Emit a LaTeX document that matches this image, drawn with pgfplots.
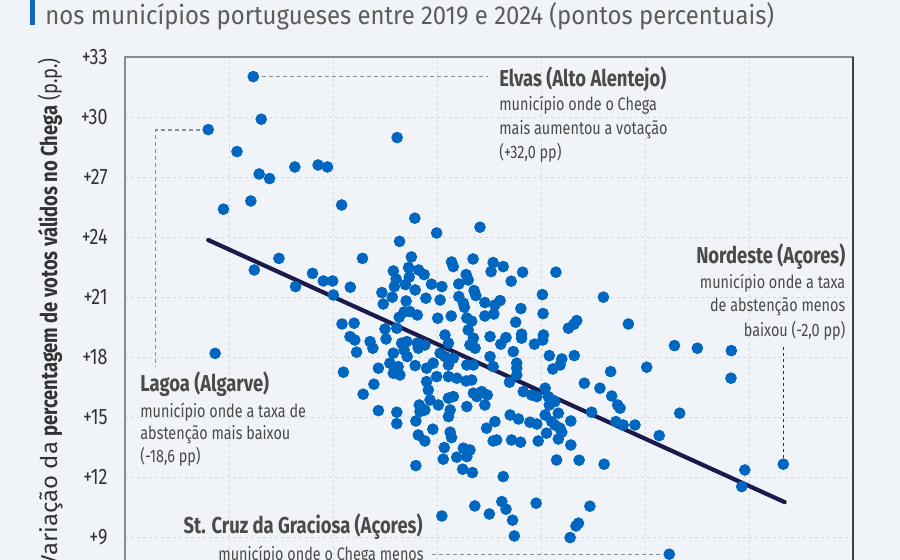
\documentclass[border=0pt]{standalone}
\usepackage{fontspec}
\setmainfont{Fira Sans}[FakeStretch=0.8]
\newfontfamily\titlefont{Fira Sans}[FakeStretch=0.92]
\newfontfamily\ylreg{Fira Sans}[FakeStretch=1.04]
\usepackage{pgfplots}
\usepackage{pgfplotstable}
\pgfplotsset{compat=1.18}
\definecolor{bg}{HTML}{F0F3F7}
\definecolor{dot}{HTML}{0067C0}
\definecolor{navy}{HTML}{1B1A4A}
\definecolor{txt}{HTML}{4A4A4A}
\definecolor{ttl}{HTML}{5C5C5C}
\definecolor{gridc}{HTML}{D3D8DE}
\definecolor{bar}{HTML}{1565C0}
\definecolor{lead}{HTML}{8C8C8C}

\pgfplotstableread{
x y
-17.30 32.02
-17.07 29.89
-18.60 29.37
-13.15 28.97
-17.77 28.27
-16.10 27.50
-15.43 27.60
-15.16 27.50
-17.13 27.15
-16.83 26.92
-17.37 25.80
-14.75 25.60
-18.16 25.39
-12.64 24.94
-13.08 23.78
-12.01 24.20
-10.76 24.49
-12.74 23.00
-14.15 22.93
-16.56 22.93
-17.27 22.35
-15.59 22.18
-15.28 21.80
-16.08 21.52
-15.01 21.80
-14.99 21.10
-18.40 18.18
-11.58 22.75
-10.96 22.90
-11.53 22.52
-13.26 22.30
-12.82 22.47
-12.53 22.35
-12.37 22.12
-12.80 22.00
-13.18 21.90
-11.16 22.12
-11.10 21.85
-11.37 21.65
-14.50 21.49
-13.23 21.52
-12.91 21.62
-12.63 21.35
-12.16 21.64
-11.86 21.52
-10.93 21.32
-10.88 21.07
-13.59 21.22
-13.29 20.99
-11.37 21.02
-12.32 20.94
-11.91 20.85
-12.89 20.80
-13.55 20.65
-11.24 20.69
-11.21 20.49
-12.78 20.27
-12.57 20.10
-13.09 19.99
-11.98 19.94
-11.59 20.05
-11.14 19.95
-11.00 19.79
-14.74 19.65
-14.39 19.69
-13.50 19.40
-13.16 19.44
-12.95 20.25
-10.38 22.72
-10.09 22.52
-10.44 22.27
-9.53 22.24
-8.57 22.24
-9.86 21.79
-8.96 21.12
-7.20 20.99
-10.62 20.72
-10.33 20.60
-10.18 20.82
-9.58 20.42
-10.62 20.05
-10.36 20.15
-8.94 20.17
-9.73 19.74
-7.97 19.82
-8.05 19.64
-8.21 19.44
-6.48 19.65
-14.51 19.02
-14.37 18.85
-13.93 18.77
-13.85 18.44
-13.47 18.90
-14.32 18.24
-13.02 18.69
-12.87 18.77
-12.95 18.35
-12.86 18.02
-12.57 18.69
-12.54 18.44
-12.35 18.60
-13.26 18.19
-13.36 17.69
-13.12 17.52
-13.26 17.19
-13.07 17.10
-13.69 17.44
-14.70 17.24
-12.63 17.57
-12.30 17.44
-12.11 17.69
-11.91 18.19
-11.77 19.10
-11.67 18.69
-11.77 18.02
-11.53 17.94
-11.67 17.60
-11.10 19.35
-10.95 18.94
-11.05 18.60
-10.90 18.44
-11.14 17.60
-10.95 17.60
-12.30 16.77
-12.01 17.02
-11.67 17.02
-11.43 16.94
-11.16 16.80
-11.00 16.85
-12.25 16.35
-12.20 15.85
-11.96 15.60
-11.67 15.94
-11.53 16.02
-11.62 15.35
-11.67 15.02
-11.14 15.52
-10.95 16.19
-10.85 16.02
-13.82 16.64
-14.13 16.14
-13.69 15.32
-13.16 15.24
-13.16 14.67
-12.51 15.60
-12.49 15.27
-12.35 15.35
-12.61 14.80
-12.12 14.39
-12.54 14.10
-12.35 13.80
-11.62 14.24
-11.58 13.97
-11.79 13.47
-11.82 12.89
-11.43 12.99
-11.24 13.44
-11.05 13.35
-11.14 13.02
-11.26 12.39
-10.98 12.22
-12.61 12.57
-10.47 19.02
-10.16 18.64
-10.01 18.97
-9.56 19.14
-9.56 18.94
-9.19 18.64
-8.93 19.10
-8.95 18.85
-9.80 18.27
-10.47 18.02
-9.70 17.69
-9.70 17.44
-10.38 17.52
-9.70 17.10
-9.91 16.74
-8.76 18.07
-8.40 17.90
-8.45 17.60
-8.66 17.40
-8.04 18.07
-6.99 17.27
-7.75 16.69
-7.30 16.44
-6.96 16.05
-6.79 15.60
-6.72 15.44
-6.84 14.77
-6.63 14.60
-7.54 15.24
-9.51 16.27
-9.27 16.10
-9.12 16.02
-8.88 16.44
-8.79 16.02
-8.69 15.85
-8.60 15.77
-8.76 15.60
-10.71 16.27
-10.55 16.10
-10.62 15.60
-9.89 15.10
-9.65 14.90
-10.33 14.77
-10.57 14.44
-9.32 14.74
-9.12 14.65
-8.88 15.10
-8.50 15.19
-8.69 14.77
-8.60 14.60
-8.45 14.44
-8.40 14.24
-8.84 14.19
-8.14 14.80
-8.50 13.90
-9.85 13.85
-9.59 13.74
-10.38 13.80
-10.28 13.85
-9.08 13.80
-8.14 13.60
-8.55 12.85
-7.90 12.84
-7.18 12.64
-10.09 12.02
-5.15 18.57
-4.49 18.44
-3.51 18.32
-5.95 17.49
-3.52 16.94
-5.00 15.19
-6.29 14.60
-5.59 14.07
-3.12 12.35
-3.21 11.52
-2.01 12.64
-10.91 10.55
-10.13 10.77
-10.01 10.39
-10.49 10.15
-9.82 9.84
-9.77 9.05
-9.14 10.69
-7.59 10.54
-7.92 9.69
-7.99 9.55
-8.16 8.97
-11.86 10.05
-5.30 8.14
}\pts

\begin{document}
\begin{tikzpicture}
\fill[bg] (0,0) rectangle (450pt,280pt);
\fill[bar] (15pt,267.5pt) rectangle (17.5pt,281pt);
\node[anchor=base west, inner sep=0pt, font=\titlefont\fontsize{13}{15}\selectfont, text=ttl] at (22.5pt,267.5pt) {nos municípios portugueses entre 2019 e 2024 (pontos percentuais)};
\begin{axis}[
  at={(62.5pt,-18.5pt)}, anchor=south west,
  scale only axis, width=364pt, height=270pt,
  xmin=-21, xmax=0, ymin=6, ymax=33,
  xtick={-21,-18,...,0}, xticklabels={},
  ytick={9,12,...,33},
  yticklabels={+9,+12,+15,+18,+21,+24,+27,+30,+33},
  grid=major,
  major grid style={gridc, dash pattern=on 1.5pt off 1.5pt, line width=0.4pt},
  tick style={draw=none},
  axis line style={draw=lead, line width=0.6pt},
  y tick label style={font=\fontsize{11.2}{12}\selectfont, text=black!80, inner sep=0pt, xshift=-8.5pt},
  clip=false,
]
\addplot[only marks, mark=*, mark size=2.7pt, color=dot, mark options={fill=dot, draw=none}] table {\pts};
\addplot[navy, line width=2.1pt, line cap=round] coordinates {(-18.6,23.85) (-1.97,10.74)};
\draw[lead, line width=0.6pt, dash pattern=on 2pt off 1.5pt] (axis cs:-17.05,32.02) -- (axis cs:-10.53,32.02);
\draw[lead, line width=0.6pt, dash pattern=on 2pt off 1.5pt] (axis cs:-18.85,29.35) -- (axis cs:-20.13,29.35) -- (axis cs:-20.13,17.5);
\draw[black!80, line width=0.6pt, dash pattern=on 1.5pt off 1.5pt] (axis cs:-2.0,18.5) -- (axis cs:-2.0,12.95);
\draw[lead, line width=0.6pt, dash pattern=on 2pt off 1.5pt] (axis cs:-12.14,8.14) -- (axis cs:-5.5,8.14);
\draw[black!75, line width=0.8pt] (rel axis cs:1,0) -- (rel axis cs:1,1);
\end{axis}
% y label
\node[rotate=90, anchor=base east, inner sep=0pt, font=\fontsize{11.5}{14}\selectfont, text=black!80] at (28.5pt,251pt) {{\ylreg Variação da} \textbf{percentagem de votos válidos no Chega} (p.p.)};
% Elvas
\node[anchor=base west, inner sep=0pt, font=\bfseries\fontsize{11.5}{14}\selectfont, text=txt] at (249.5pt,236.65pt) {Elvas (Alto Alentejo)};
\node[anchor=base west, inner sep=0pt, font=\fontsize{9}{12}\selectfont, text=txt] at (249.5pt,224.65pt) {município onde o Chega};
\node[anchor=base west, inner sep=0pt, font=\fontsize{9}{12}\selectfont, text=txt] at (249.5pt,212.5pt) {mais aumentou a votação};
\node[anchor=base west, inner sep=0pt, font=\fontsize{9}{12}\selectfont, text=txt] at (249.5pt,200.5pt) {(+32,0 pp)};
% Lagoa
\node[anchor=base west, inner sep=0pt, font=\bfseries\fontsize{11.5}{14}\selectfont, text=txt] at (70pt,84.15pt) {Lagoa (Algarve)};
\node[anchor=base west, inner sep=0pt, font=\fontsize{9}{12}\selectfont, text=txt] at (70pt,71pt) {município onde a taxa de};
\node[anchor=base west, inner sep=0pt, font=\fontsize{9}{12}\selectfont, text=txt] at (70pt,60pt) {abstenção mais baixou};
\node[anchor=base west, inner sep=0pt, font=\fontsize{9}{12}\selectfont, text=txt] at (70pt,48.5pt) {(-18,6 pp)};
% Nordeste
\node[anchor=base east, inner sep=0pt, font=\bfseries\fontsize{11.5}{14}\selectfont, text=txt] at (422.85pt,148.35pt) {Nordeste (Açores)};
\node[anchor=base east, inner sep=0pt, font=\fontsize{9}{12}\selectfont, text=txt] at (422.85pt,135.85pt) {município onde a taxa};
\node[anchor=base east, inner sep=0pt, font=\fontsize{9}{12}\selectfont, text=txt] at (422.85pt,124.15pt) {de abstenção menos};
\node[anchor=base east, inner sep=0pt, font=\fontsize{9}{12}\selectfont, text=txt] at (422.85pt,111.65pt) {baixou (-2,0 pp)};
% St Cruz
\node[anchor=base east, inner sep=0pt, font=\bfseries\fontsize{11.5}{14}\selectfont, text=txt] at (211.5pt,13pt) {St. Cruz da Graciosa (Açores)};
\node[anchor=base east, inner sep=0pt, font=\fontsize{9}{12}\selectfont, text=txt] at (212pt,-0.5pt) {município onde o Chega menos};
\pgfresetboundingbox
\path[use as bounding box] (0,0) rectangle (450pt,280pt);
\end{tikzpicture}
\end{document}
